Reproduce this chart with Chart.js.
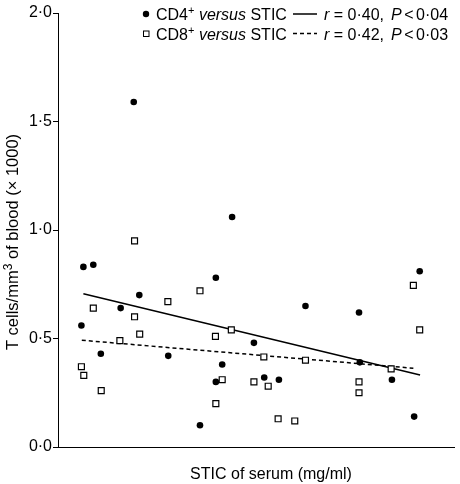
<!DOCTYPE html>
<html>
<head>
<meta charset="utf-8">
<script src="https://cdn.jsdelivr.net/npm/chart.js@4/dist/chart.umd.min.js"></script>
<style>
  body { margin: 0; background: #fff; }
  canvas { display: block; }
</style>
</head>
<body>
<canvas id="tcellChart" width="460" height="484"></canvas>
<script>
// STIC of serum (arbitrary axis units, no tick labels on the original)
const cd4X = [19.1, 43.9, 6.4, 8.9, 5.9, 10.8, 15.8, 20.5, 27.8, 39.8, 41.4, 39.8, 35.8, 91.2, 62.4, 75.9, 49.4, 76.1, 84.2, 52.0, 55.7, 89.8];
const cd4Y = [1.59, 1.06, 0.83, 0.84, 0.56, 0.43, 0.64, 0.70, 0.42, 0.78, 0.38, 0.30, 0.10, 0.81, 0.65, 0.62, 0.48, 0.39, 0.31, 0.32, 0.31, 0.14];

const cd8X = [19.3, 8.9, 5.9, 6.5, 10.9, 15.6, 19.3, 20.6, 27.7, 35.8, 39.7, 43.7, 41.4, 39.8, 89.6, 91.2, 51.9, 62.4, 84.0, 49.4, 53.0, 75.9, 75.9, 55.5, 59.7];
const cd8Y = [0.95, 0.64, 0.37, 0.33, 0.26, 0.49, 0.60, 0.52, 0.67, 0.72, 0.51, 0.54, 0.31, 0.20, 0.745, 0.54, 0.415, 0.40, 0.36, 0.30, 0.28, 0.30, 0.25, 0.13, 0.12];

// regression line end points
const cd4FitX = [6.4, 91.3];
const cd4FitY = [0.706, 0.332];
const cd8FitX = [6.0, 89.6];
const cd8FitY = [0.492, 0.363];

const yTicks = [0, 0.5, 1, 1.5, 2];

const FONT = "'Liberation Sans', Arial, Helvetica, sans-serif";

function toPoints(xs, ys) {
    return xs.map((x, i) => ({ x: x, y: ys[i] }));
}

function fmt(v) {
    return v.toFixed(1).replace('.', '\u00b7');
}

// draws a list of [text, font, dy, gapAfter] runs one after the other, returns end x
function drawRuns(ctx, runs, x, y) {
    runs.forEach(r => {
        ctx.font = r[1];
        ctx.fillText(r[0], x, y + (r[2] || 0));
        x += ctx.measureText(r[0]).width + (r[3] || 0);
    });
    return x;
}

function runsWidth(ctx, runs) {
    let w = 0;
    runs.forEach(r => {
        ctx.font = r[1];
        w += ctx.measureText(r[0]).width + (r[3] || 0);
    });
    return w;
}

// legend + axis titles
const textPlugin = {
    id: 'tcellText',
    afterDraw(chart) {
        const ctx = chart.ctx;
        const reg = '16px ' + FONT;
        const ita = 'italic 16px ' + FONT;
        const sup = '11px ' + FONT;
        ctx.save();
        ctx.fillStyle = '#000';
        ctx.strokeStyle = '#000';
        ctx.textBaseline = 'alphabetic';
        ctx.textAlign = 'left';

        const rows = [
            { cd: 'CD4', r: '0\u00b740', p: '0\u00b704', base: 19.5, mid: 14, dash: [] },
            { cd: 'CD8', r: '0\u00b742', p: '0\u00b703', base: 39.5, mid: 33.5, dash: [4, 3] },
        ];
        rows.forEach((row, i) => {
            if (i === 0) {
                ctx.beginPath();
                ctx.arc(146, row.mid, 3.2, 0, Math.PI * 2);
                ctx.fill();
            } else {
                ctx.lineWidth = 1;
                ctx.strokeRect(143.5, row.mid - 2.5, 5.5, 5.5);
            }
            drawRuns(ctx, [
                [row.cd, reg],
                ['+', sup, -6],
                [' ', reg],
                ['versus', ita],
                [' STIC', reg]
            ], 156, row.base);

            ctx.lineWidth = 1.5;
            ctx.setLineDash(row.dash);
            ctx.beginPath();
            ctx.moveTo(293, row.mid);
            ctx.lineTo(317, row.mid);
            ctx.stroke();
            ctx.setLineDash([]);

            drawRuns(ctx, [
                ['r', ita],
                [' = ' + row.r + ',', reg, 0, 7],
                ['P', ita, 0, 2.5],
                ['<', reg, 0, 2.5],
                [row.p, reg]
            ], 324, row.base);
        });

        // x axis title
        ctx.font = '16px ' + FONT;
        ctx.textAlign = 'center';
        ctx.fillText('STIC of serum (mg/ml)', 271, 478.5);

        // y axis title, rotated
        ctx.textAlign = 'left';
        const yReg = '16.5px ' + FONT;
        const yRuns = [
            ['T cells/mm', yReg],
            ['3', '12px ' + FONT, -6],
            [' of blood (\u00d7 1000)', yReg]
        ];
        const w = runsWidth(ctx, yRuns);
        ctx.translate(17.5, 242);
        ctx.rotate(-Math.PI / 2);
        drawRuns(ctx, yRuns, -w / 2, 0);
        ctx.restore();
    }
};

const data = {
    datasets: [
        {
            label: 'CD4+ versus STIC',
            data: toPoints(cd4X, cd4Y),
            pointStyle: 'circle',
            pointRadius: 3.3,
            backgroundColor: '#000',
            borderColor: '#000',
            borderWidth: 0,
        },
        {
            label: 'CD8+ versus STIC',
            data: toPoints(cd8X, cd8Y),
            pointStyle: 'rect',
            pointRadius: 4.2,
            backgroundColor: '#fff',
            borderColor: '#000',
            borderWidth: 1.2,
        },
        {
            label: 'CD4 fit',
            data: toPoints(cd4FitX, cd4FitY),
            showLine: true,
            pointRadius: 0,
            borderColor: '#000',
            borderWidth: 1.5,
        },
        {
            label: 'CD8 fit',
            data: toPoints(cd8FitX, cd8FitY),
            showLine: true,
            pointRadius: 0,
            borderColor: '#000',
            borderWidth: 1.5,
            borderDash: [4, 3],
        },
    ]
};

const config = {
    type: 'scatter',
    data: data,
    options: {
        responsive: false,
        animation: false,
        layout: {
            padding: { left: 0, right: 3, top: 13, bottom: 0 }
        },
        scales: {
            x: {
                type: 'linear',
                min: 0,
                max: 100,
                ticks: { display: false },
                grid: { drawOnChartArea: false, drawTicks: false },
                border: { color: '#000', width: 1 },
                title: { display: false },
                afterFit(scale) { scale.height = 37; }
            },
            y: {
                min: 0,
                max: 2,
                afterBuildTicks(scale) {
                    scale.ticks = yTicks.map(v => ({ value: v }));
                },
                ticks: {
                    color: '#000',
                    font: { family: FONT, size: 16 },
                    padding: 1,
                    callback: v => fmt(v)
                },
                grid: { drawOnChartArea: false, tickLength: 5, color: '#000' },
                border: { color: '#000', width: 1 },
                title: { display: false },
                afterFit(scale) { scale.width = 58; }
            }
        },
        plugins: {
            legend: { display: false },
            tooltip: { enabled: false }
        }
    },
    plugins: [textPlugin]
};

const myChart = new Chart(document.getElementById('tcellChart'), config);
</script>
</body>
</html>
